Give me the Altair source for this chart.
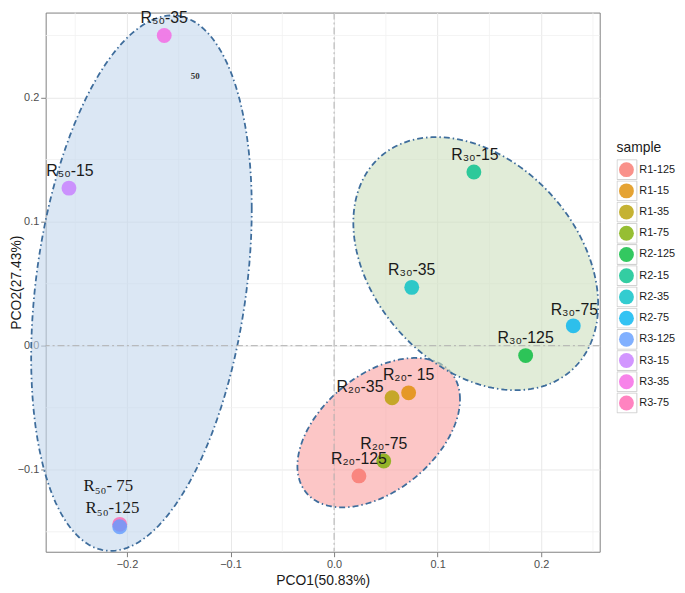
import altair as alt
import numpy as np
import pandas as pd

# ---------------- data ----------------
samples = ["R1-125", "R1-15", "R1-35", "R1-75", "R2-125", "R2-15",
           "R2-35", "R2-75", "R3-125", "R3-15", "R3-35", "R3-75"]
groups = ["R1", "R1", "R1", "R1", "R2", "R2", "R2", "R2", "R3", "R3", "R3", "R3"]
pco1 = [0.024, 0.072, 0.056, 0.048, 0.185, 0.135, 0.075, 0.231,
        -0.207, -0.256, -0.164, -0.207]
pco2 = [-0.105, -0.038, -0.042, -0.093, -0.008, 0.140, 0.047, 0.016,
        -0.146, 0.127, 0.250, -0.144]
labels = ["R₂₀-125", "R₂₀- 15", "R₂₀-35", "R₂₀-75", "R₃₀-125", "R₃₀-15",
          "R₃₀-35", "R₃₀-75", "R₅₀-125", "R₅₀-15", "R₅₀-35", "R₅₀- 75"]
label_x = [0.024, 0.072, 0.025, 0.048, 0.185, 0.136, 0.075, 0.232,
           -0.214, -0.255, -0.164, -0.218]
label_y = [-0.091, -0.024, -0.033, -0.079, 0.006, 0.154, 0.061, 0.029,
           -0.131, 0.141, 0.264, -0.113]
label_serif = [False, False, False, False, False, False, False, False,
               True, False, False, True]

# stray annotation in the figure
note_text = ["50"]
note_x = [-0.134]
note_y = [0.217]

# confidence ellipses (centre, spread, correlation) per group
ell_group = ["R1", "R2", "R3"]
ell_cx = [0.0431, 0.1368, -0.1860]
ell_cy = [-0.0701, 0.0661, 0.0504]
ell_sx = [0.0785, 0.1182, 0.1065]
ell_sy = [0.0602, 0.1020, 0.2158]
ell_r = [0.446, -0.324, 0.278]

x_ticks = [-0.2, -0.1, 0.0, 0.1, 0.2]
y_ticks = [-0.1, 0.0, 0.1, 0.2]
x_minor = [-0.25, -0.15, -0.05, 0.05, 0.15, 0.25]
y_minor = [-0.15, -0.05, 0.05, 0.15, 0.25]
x_domain = [-0.2785, 0.2565]
y_domain = [-0.1661, 0.2685]

palette = ["#F8766D", "#DE8C00", "#B79F00", "#7CAE00", "#00BA38", "#00C08B",
           "#00BFC4", "#00B4F0", "#619CFF", "#C77CFF", "#F564E3", "#FF64B0"]
ell_fill = {"R1": "#faa0a0", "R2": "#cddfbe", "R3": "#c3d7ed"}

# ---------------- tables ----------------
pts = pd.DataFrame({"sample": samples, "key": samples, "group": groups,
                    "x": pco1, "y": pco2, "label": labels,
                    "lx": label_x, "ly": label_y, "serif": label_serif})

t = np.linspace(0, 2 * np.pi, 241)
rows = []
for g, cx, cy, sx, sy, r in zip(ell_group, ell_cx, ell_cy, ell_sx, ell_sy, ell_r):
    ex = cx + sx * np.cos(t)
    ey = cy + sy * (r * np.cos(t) + np.sqrt(1 - r * r) * np.sin(t))
    for i, (a, b) in enumerate(zip(ex, ey)):
        rows.append({"group": g, "i": i, "x": a, "y": b})
ell = pd.DataFrame(rows)

xs = alt.Scale(domain=x_domain, nice=False, zero=False)
ys = alt.Scale(domain=y_domain, nice=False, zero=False)
x_axis = alt.Axis(values=x_ticks, title="PCO1(50.83%)", labelPadding=2, titlePadding=4)
y_axis = alt.Axis(values=y_ticks, title="PCO2(27.43%)", labelPadding=2, titleX=-22)
X = alt.X("x:Q", scale=xs, axis=x_axis)
Y = alt.Y("y:Q", scale=ys, axis=y_axis)
LX = alt.X("lx:Q", scale=xs, axis=x_axis)
LY = alt.Y("ly:Q", scale=ys, axis=y_axis)

# minor grid
minor_v = alt.Chart(pd.DataFrame({"x": x_minor})).mark_rule(
    color="#f0f0f0", strokeWidth=0.8).encode(x=X)
minor_h = alt.Chart(pd.DataFrame({"y": y_minor})).mark_rule(
    color="#f0f0f0", strokeWidth=0.8).encode(y=Y)

ell_layers = []
for g in ell_group:
    ell_layers.append(
        alt.Chart(ell).transform_filter(alt.datum.group == g).mark_line(
            fill=ell_fill[g], fillOpacity=0.6, stroke="#3e6d9c", strokeWidth=1.8,
            strokeDash=[6, 3, 1.5, 3], clip=False
        ).encode(x=X, y=Y, order="i:Q")
    )

ref_v = alt.Chart(pd.DataFrame({"x": [0.0]})).mark_rule(
    color="#b0b0b0", strokeWidth=1, strokeDash=[7, 3, 2, 3]).encode(x=X)
ref_h = alt.Chart(pd.DataFrame({"y": [0.0]})).mark_rule(
    color="#b0b0b0", strokeWidth=1, strokeDash=[7, 3, 2, 3]).encode(y=Y)

points = alt.Chart(pts).mark_circle(size=225, opacity=0.8).encode(
    x=X, y=Y,
    color=alt.Color("sample:N", scale=alt.Scale(domain=samples, range=palette),
                    legend=alt.Legend(orient="none", legendX=576, legendY=148,
                                      title=None,
                                      symbolSize=225, symbolStrokeWidth=0,
                                      symbolOffset=2.5, clipHeight=21,
                                      rowPadding=0.4, labelOffset=5.5,
                                      labelFontSize=11, labelColor="#1a1a1a",
                                      labelFont="Liberation Sans")),
    order=alt.Order("y:Q", sort="descending"),
)

boxes = alt.Chart(pts).mark_point(size=0, opacity=0, filled=False).encode(
    x=X, y=Y,
    shape=alt.Shape("key:N", scale=alt.Scale(range=["square"]),
                    legend=alt.Legend(orient="none", legendX=576, legendY=130,
                                      title="sample", titleFontSize=14,
                                      titlePadding=4, titleColor="#1a1a1a",
                                      titleFont="Liberation Sans",
                                      titleFontWeight="normal",
                                      symbolSize=400, symbolStrokeWidth=1,
                                      symbolOpacity=1,
                                      symbolStrokeColor="#cccccc",
                                      symbolFillColor="transparent",
                                      clipHeight=21, rowPadding=0.4,
                                      labelExpr="''", labelFontSize=11)),
)

sans_text = alt.Chart(pts).transform_filter("!datum.serif").mark_text(
    font="Liberation Sans", fontSize=16, color="#1a1a1a", baseline="middle",
    align="center").encode(x=LX, y=LY, text="label:N")
serif_text = alt.Chart(pts).transform_filter("datum.serif").mark_text(
    font="Liberation Serif", fontSize=17, color="#1a1a1a", baseline="middle",
    align="center").encode(x=LX, y=LY, text="label:N")

note = alt.Chart(pd.DataFrame({"x": note_x, "y": note_y, "t": note_text})).mark_text(
    font="Liberation Serif", fontSize=9, fontWeight="bold", color="#333333",
    baseline="middle", align="center").encode(x=X, y=Y, text="t:N")

chart = alt.layer(
    minor_v, minor_h, *ell_layers, ref_v, ref_h, points, boxes,
    sans_text, serif_text, note
).resolve_scale(color="independent", shape="independent").properties(
    width=559, height=544,
    autosize=alt.AutoSizeParams(type="none"),
    padding={"left": 38, "top": 2, "right": 78, "bottom": 38},
).configure_view(
    stroke="#7f7f7f", strokeWidth=1
).configure_axis(
    domain=False, grid=True, gridColor="#e8e8e8", gridWidth=1,
    tickColor="#7f7f7f", tickSize=5, tickWidth=1,
    labelFont="Liberation Sans", labelFontSize=11, labelColor="#4d4d4d",
    titleFont="Liberation Sans", titleFontSize=14, titleColor="#1a1a1a",
    titleFontWeight="normal",
).configure_legend(padding=0)

chart.save("out.html", embed_options={"renderer": "svg", "actions": False})
